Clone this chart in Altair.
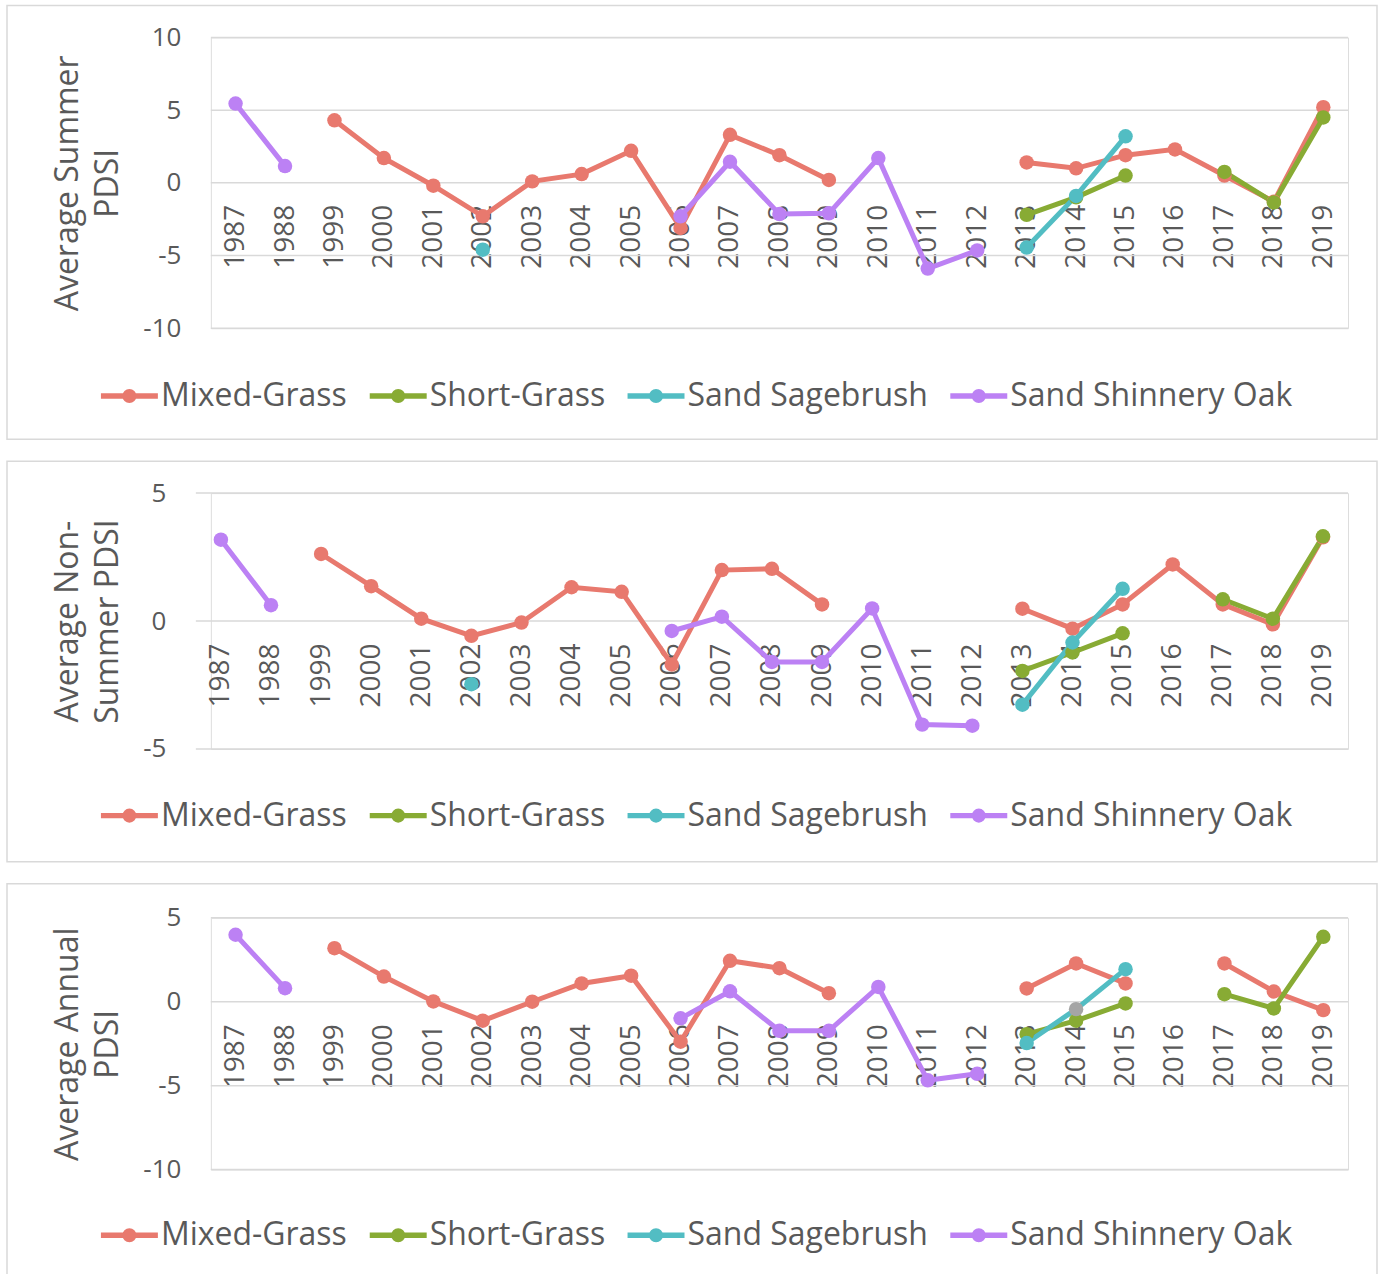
import altair as alt
import pandas as pd

years = ["1987", "1988", "1999", "2000", "2001", "2002", "2003", "2004", "2005",
         "2006", "2007", "2008", "2009", "2010", "2011", "2012", "2013", "2014",
         "2015", "2016", "2017", "2018", "2019"]
series_names = ["Mixed-Grass", "Short-Grass", "Sand Sagebrush", "Sand Shinnery Oak"]
series_colors = ["#E8796E", "#88AB34", "#52BDC3", "#BC81F4"]

N = None
# Average Summer PDSI
summer_mixed = [N, N, 4.3, 1.7, -0.2, -2.3, 0.1, 0.6, 2.2, -3.1, 3.3, 1.9, 0.2, N, N, N, 1.4, 1.0, 1.9, 2.3, 0.5, -1.3, 5.2]
summer_short = [N, N, N, N, N, N, N, N, N, N, N, N, N, N, N, N, -2.2, -1.0, 0.5, N, 0.75, -1.35, 4.5]
summer_sage = [N, N, N, N, N, -4.6, N, N, N, N, N, N, N, N, N, N, -4.45, -0.9, 3.2, N, N, N, N]
summer_oak = [5.45, 1.15, N, N, N, N, N, N, N, -2.3, 1.45, -2.15, -2.1, 1.7, -5.9, -4.65, N, N, N, N, N, N, N]
# Average Non-Summer PDSI
nonsummer_mixed = [N, N, 2.62, 1.36, 0.09, -0.58, -0.06, 1.32, 1.14, -1.7, 1.99, 2.04, 0.65, N, N, N, 0.48, -0.3, 0.65, 2.21, 0.65, -0.13, 3.27]
nonsummer_short = [N, N, N, N, N, N, N, N, N, N, N, N, N, N, N, N, -1.95, -1.23, -0.48, N, 0.85, 0.09, 3.31]
nonsummer_sage = [N, N, N, N, N, -2.47, N, N, N, N, N, N, N, N, N, N, -3.27, -0.84, 1.26, N, N, N, N]
nonsummer_oak = [3.18, 0.62, N, N, N, N, N, N, N, -0.39, 0.17, -1.6, -1.6, 0.49, -4.05, -4.09, N, N, N, N, N, N, N]
# Average Annual PDSI
annual_mixed = [N, N, 3.19, 1.5, 0.02, -1.13, 0.0, 1.09, 1.55, -2.38, 2.44, 2.0, 0.51, N, N, N, 0.79, 2.28, 1.09, N, 2.28, 0.61, -0.5]
annual_short = [N, N, N, N, N, N, N, N, N, N, N, N, N, N, N, N, -1.93, -1.13, -0.1, N, 0.45, -0.4, 3.87]
annual_sage = [N, N, N, N, N, N, N, N, N, N, N, N, N, N, N, N, -2.46, -0.44, 1.94, N, N, N, N]
annual_oak = [3.99, 0.81, N, N, N, N, N, N, N, -0.99, 0.62, -1.73, -1.73, 0.88, -4.68, -4.29, N, N, N, N, N, N, N]

summer_ticks = [-10, -5, 0, 5, 10]
nonsummer_ticks = [-5, 0, 5]
annual_ticks = [-10, -5, 0, 5]

TXT = "#595959"
GRID = "#D9D9D9"
AXFONT = "Open Sans"
LEGFONT = "Open Sans"
LEG_PATH = ("M-1,0L1,0"
            "M-0.15,0A0.15,0.15,0,1,0,0.15,0A0.15,0.15,0,1,0,-0.15,0"
            "M-0.07,0A0.07,0.07,0,1,0,0.07,0A0.07,0.07,0,1,0,-0.07,0")
W = 1138


def make_df(lists):
    rows = []
    for name, vals in zip(series_names, lists):
        for yr, v in zip(years, vals):
            rows.append({"year": yr, "series": name, "value": v})
    return pd.DataFrame(rows)


def panel(lists, title, ydom, yvals, h, xoff, frame, leg_xy, shift=0, grey_point=False):
    df = make_df(lists)
    xenc = alt.X("year:O", sort=years,
                 scale=alt.Scale(domain=years, type="point", padding=0.5, range=[-shift, W]),
                 axis=alt.Axis(title=None, labelAngle=270, labelFontSize=28, labelFont=AXFONT,
                               labelColor=TXT, labelPadding=22, ticks=False, tickSize=0,
                               domain=False, grid=False, offset=xoff, labelOverlap=False))
    yenc = alt.Y("value:Q", scale=alt.Scale(domain=ydom, nice=False, zero=False),
                 axis=alt.Axis(values=yvals, title=title, titleFontSize=32, titleFont=AXFONT,
                               titleFontWeight="normal", titleColor=TXT, titleLineHeight=40,
                               titlePadding=18, labelFontSize=26, labelFont=AXFONT, labelColor=TXT,
                               labelPadding=30 + shift, ticks=False, tickSize=0, domain=False,
                               grid=False, labelExpr="datum.value + ''"))
    leg = alt.Legend(title=None, orient="none", legendX=leg_xy[0], legendY=leg_xy[1],
                     direction="horizontal", columns=4, symbolType=LEG_PATH, symbolSize=3249,
                     symbolStrokeWidth=5.5, labelFontSize=32, labelFont=LEGFONT, labelColor=TXT,
                     labelOffset=0, columnPadding=11, labelLimit=600, symbolOpacity=1, padding=0)
    grid = alt.Chart(pd.DataFrame({"value": yvals})).mark_rule(
        color=GRID, strokeWidth=1.5).encode(
        y=yenc, x=alt.value(-shift), x2=alt.value(W))
    line = alt.Chart(df).mark_line(strokeWidth=5, invalid="break-paths-show-domains").encode(
        x=xenc, y=yenc,
        stroke=alt.Stroke("series:N", scale=alt.Scale(domain=series_names, range=series_colors),
                          legend=leg),
    )
    fill_field = alt.Fill("series:N", scale=alt.Scale(domain=series_names, range=series_colors),
                          legend=None)
    if grey_point:
        fill_enc = alt.condition("datum.series == 'Sand Sagebrush' && datum.year == '2014'",
                                 alt.value("#A5A5A5"), fill_field)
    else:
        fill_enc = fill_field
    pts = alt.Chart(df).transform_filter("isValid(datum.value)").mark_point(
        filled=True, size=210, opacity=1).encode(x=xenc, y=yenc, fill=fill_enc)
    frm = alt.Chart(pd.DataFrame({"f": [0]})).mark_rect(
        fill="white", fillOpacity=0, stroke=GRID, strokeWidth=1.5).encode(
        x=alt.value(frame[0]), x2=alt.value(frame[2]),
        y=alt.value(frame[1]), y2=alt.value(frame[3]))
    return alt.layer(frm, grid, line, pts).properties(width=W, height=h)


p1 = panel([summer_mixed, summer_short, summer_sage, summer_oak],
           ["Average Summer", "PDSI"], [-10, 10], summer_ticks,
           291, -146, (-204, -32, 1167, 402), (-113, 327))
p2 = panel([nonsummer_mixed, nonsummer_short, nonsummer_sage, nonsummer_oak],
           ["Average  Non-", "Summer PDSI"], [-5, 5], nonsummer_ticks,
           256, -128, (-204, -32, 1167, 369), (-113, 291), shift=15)
p3 = panel([annual_mixed, annual_short, annual_sage, annual_oak],
           ["Average Annual", "PDSI"], [-10, 5], annual_ticks,
           252, -168, (-204, -34, 1167, 362), (-113, 286), grey_point=True)

chart = alt.vconcat(p1, p2, p3, spacing=18).resolve_scale(
    x="independent", y="independent", stroke="independent", fill="independent"
).resolve_legend(stroke="independent", fill="independent").properties(
    padding={"left": 5, "top": 3, "right": 0, "bottom": 0}
).configure_view(strokeWidth=0).configure(background="white")

chart.save("out.html", embed_options={"renderer": "svg", "actions": False})
